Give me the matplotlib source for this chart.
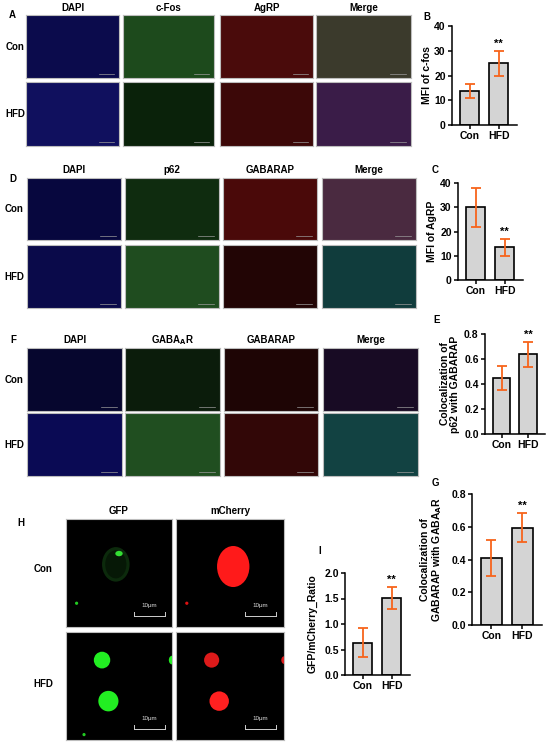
import matplotlib
matplotlib.use("Agg")
import matplotlib.pyplot as plt
from matplotlib.patches import Ellipse

plt.rcParams['font.family'] = ['Liberation Sans', 'DejaVu Sans']
plt.rcParams['font.weight'] = 'bold'

W, H = 550, 745
fig = plt.figure(figsize=(W / 100, H / 100), dpi=100)


def px_axes(x0, y0, x1, y1, **kw):
    # pixel box (top-left origin) -> figure axes
    return fig.add_axes([x0 / W, 1 - y1 / H, (x1 - x0) / W, (y1 - y0) / H], **kw)


def px_text(x, y, s, **kw):
    kw.setdefault('fontsize', 7)
    kw.setdefault('fontweight', 'bold')
    fig.text(x / W, 1 - y / H, s, **kw)


# ---- bar chart data ----
groups = ['Con', 'HFD']
cfos_mean = [13.8, 24.9]
cfos_err = [2.8, 4.9]
agrp_mean = [29.9, 13.5]
agrp_err = [8.2, 3.5]
p62_mean = [0.447, 0.637]
p62_err = [0.098, 0.10]
gaba_mean = [0.41, 0.595]
gaba_err = [0.11, 0.088]
ratio_mean = [0.635, 1.51]
ratio_err = [0.285, 0.225]


def bar_panel(box, means, errs, ylim, yticks, fmt, ylabel, ylabel_x):
    ax = px_axes(*box)
    x = range(len(groups))
    ax.bar(x, means, width=0.66, color='#d4d4d4', edgecolor='black', linewidth=1.2, zorder=2)
    ax.errorbar(x, means, yerr=errs, fmt='none', ecolor='#f7641b', elinewidth=1.3,
                capsize=3.5, capthick=1.3, zorder=3)
    top = means[1] + errs[1]
    ax.text(1, top + (ylim[1] - ylim[0]) * 0.02, '**', ha='center', va='bottom',
            fontsize=8, fontweight='bold')
    ax.set_xlim(-0.62, 1.63)
    ax.set_ylim(*ylim)
    ax.set_yticks(yticks)
    ax.set_yticklabels([fmt.format(v) for v in yticks], fontsize=7.5, fontweight='bold')
    ax.set_xticks(list(x))
    ax.set_xticklabels(groups, fontsize=7.5, fontweight='bold')
    for s in ['top', 'right']:
        ax.spines[s].set_visible(False)
    for s in ['left', 'bottom']:
        ax.spines[s].set_linewidth(1.1)
    ax.tick_params(width=1.1, length=3, pad=1.5)
    ax.set_ylabel(ylabel, fontsize=7.5, fontweight='bold', linespacing=1.0)
    ax.yaxis.set_label_coords(ylabel_x, 0.5)
    return ax


bar_panel((452, 26, 517, 125), cfos_mean, cfos_err, (0, 40), [0, 10, 20, 30, 40],
          '{:.0f}', 'MFI of c-fos', -0.3)
bar_panel((458, 183, 523, 280), agrp_mean, agrp_err, (0, 40), [0, 10, 20, 30, 40],
          '{:.0f}', 'MFI of AgRP', -0.32)
bar_panel((485, 334, 545, 434), p62_mean, p62_err, (0, 0.8), [0, 0.2, 0.4, 0.6, 0.8],
          '{:.1f}', 'Colocalization of\np62 with GABARAP', -0.42)
bar_panel((472, 494, 542, 625), gaba_mean, gaba_err, (0, 0.8), [0, 0.2, 0.4, 0.6, 0.8],
          '{:.1f}', 'Colocalization of\nGABARAP with GABA$_{\\mathbf{A}}$R', -0.4)
bar_panel((345, 573, 410, 675), ratio_mean, ratio_err, (0, 2.0), [0, 0.5, 1.0, 1.5, 2.0],
          '{:.1f}', 'GFP/mCherry_Ratio', -0.42)

px_text(427, 17, 'B', ha='center', va='center')
px_text(435, 170, 'C', ha='center', va='center')
px_text(437, 320, 'E', ha='center', va='center')
px_text(435, 483, 'G', ha='center', va='center')
px_text(320, 551, 'I', ha='center', va='center')


# ---- fluorescence image grids (flat colour tiles) ----
def tile(box, color, border='#bdbdbd'):
    ax = px_axes(*box)
    ax.set_facecolor(color)
    ax.set_xticks([])
    ax.set_yticks([])
    ax.set_xlim(0, 1)
    ax.set_ylim(0, 1)
    for s in ax.spines.values():
        s.set_color(border)
        s.set_linewidth(0.8)
    # tiny scale bar
    ax.plot([0.78, 0.95], [0.07, 0.07], color='#9a9a9a', lw=0.5)
    return ax


def grid(cols_x, rows_y, headers, header_y, colors, tag, tag_xy, row_label_x):
    for j, (x0, x1) in enumerate(cols_x):
        px_text((x0 + x1) / 2, header_y, headers[j], ha='center', va='center')
        for i, (y0, y1) in enumerate(rows_y):
            tile((x0, y0, x1, y1), colors[i][j])
    for i, (y0, y1) in enumerate(rows_y):
        px_text(row_label_x, (y0 + y1) / 2, ['Con', 'HFD'][i], ha='center', va='center')
    px_text(tag_xy[0], tag_xy[1], tag, ha='center', va='center')


grid([(26, 119), (123, 214), (220, 313), (316, 411)], [(15, 78), (82, 146)],
     ['DAPI', 'c-Fos', 'AgRP', 'Merge'], 8,
     [['#0b0b4c', '#1d4a1c', '#4a0b0b', '#3b3a2c'],
      ['#10105e', '#0a220a', '#3c0808', '#3a1c48']],
     'A', (12, 15), 15)

grid([(27, 121), (125, 219), (223, 317), (322, 416)], [(178, 240), (245, 308)],
     ['DAPI', 'p62', 'GABARAP', 'Merge'], 170,
     [['#07073e', '#0f2c0f', '#4a0909', '#4a2a40'],
      ['#0a0a4a', '#1f4c1f', '#220505', '#103c3c']],
     'D', (13, 179), 14)

grid([(27, 122), (125, 220), (224, 318), (323, 418)], [(348, 411), (413, 476)],
     ['DAPI', 'GABA$_{\\mathbf{A}}$R', 'GABARAP', 'Merge'], 340,
     [['#06062e', '#0b1c0b', '#1e0505', '#180b24'],
      ['#0a0a54', '#204e20', '#320707', '#124242']],
     'F', (13, 340), 14)


# ---- confocal panel H ----
def conf_tile(box, shapes):
    ax = tile(box, 'black', border='#bdbdbd')
    ax.lines[0].remove()
    for (cx, cy, w, h, col) in shapes:
        ax.add_patch(Ellipse((cx, cy), w, h, color=col, lw=0))
    ax.plot([0.64, 0.93], [0.1, 0.1], color='#cfcfcf', lw=0.7)
    ax.plot([0.64, 0.64], [0.1, 0.14], color='#cfcfcf', lw=0.7)
    ax.plot([0.93, 0.93], [0.1, 0.14], color='#cfcfcf', lw=0.7)
    ax.text(0.785, 0.2, '10\u03bcm', color='#dddddd', fontsize=4.5,
            fontweight='normal', ha='center', va='center')
    return ax


gx = [(66, 172), (176, 284)]
gy = [(519, 627), (632, 740)]
px_text(119, 511, 'GFP', ha='center', va='center')
px_text(230, 511, 'mCherry', ha='center', va='center')
px_text(21, 523, 'H', ha='center', va='center')
px_text(43, 569, 'Con', ha='center', va='center')
px_text(43, 684, 'HFD', ha='center', va='center')

conf_tile((gx[0][0], gy[0][0], gx[0][1], gy[0][1]),
          [(0.47, 0.58, 0.26, 0.32, '#0c2a0c'), (0.47, 0.58, 0.2, 0.26, '#061806'),
           (0.5, 0.68, 0.07, 0.05, '#33dd33'), (0.1, 0.22, 0.03, 0.03, '#22cc22')])
conf_tile((gx[1][0], gy[0][0], gx[1][1], gy[0][1]),
          [(0.53, 0.56, 0.3, 0.38, '#ff1a1a'), (0.1, 0.22, 0.03, 0.03, '#dd1111')])
conf_tile((gx[0][0], gy[1][0], gx[0][1], gy[1][1]),
          [(0.34, 0.74, 0.155, 0.155, '#22ee22'), (0.40, 0.36, 0.19, 0.19, '#22ee22'),
           (1.0, 0.74, 0.06, 0.08, '#22ee22'), (0.17, 0.05, 0.03, 0.03, '#22cc22')])
conf_tile((gx[1][0], gy[1][0], gx[1][1], gy[1][1]),
          [(0.33, 0.74, 0.14, 0.14, '#dd1a1a'), (0.40, 0.36, 0.18, 0.18, '#ff2020'),
           (1.0, 0.74, 0.05, 0.07, '#dd1a1a')])

fig.savefig('out.png', dpi=100)
